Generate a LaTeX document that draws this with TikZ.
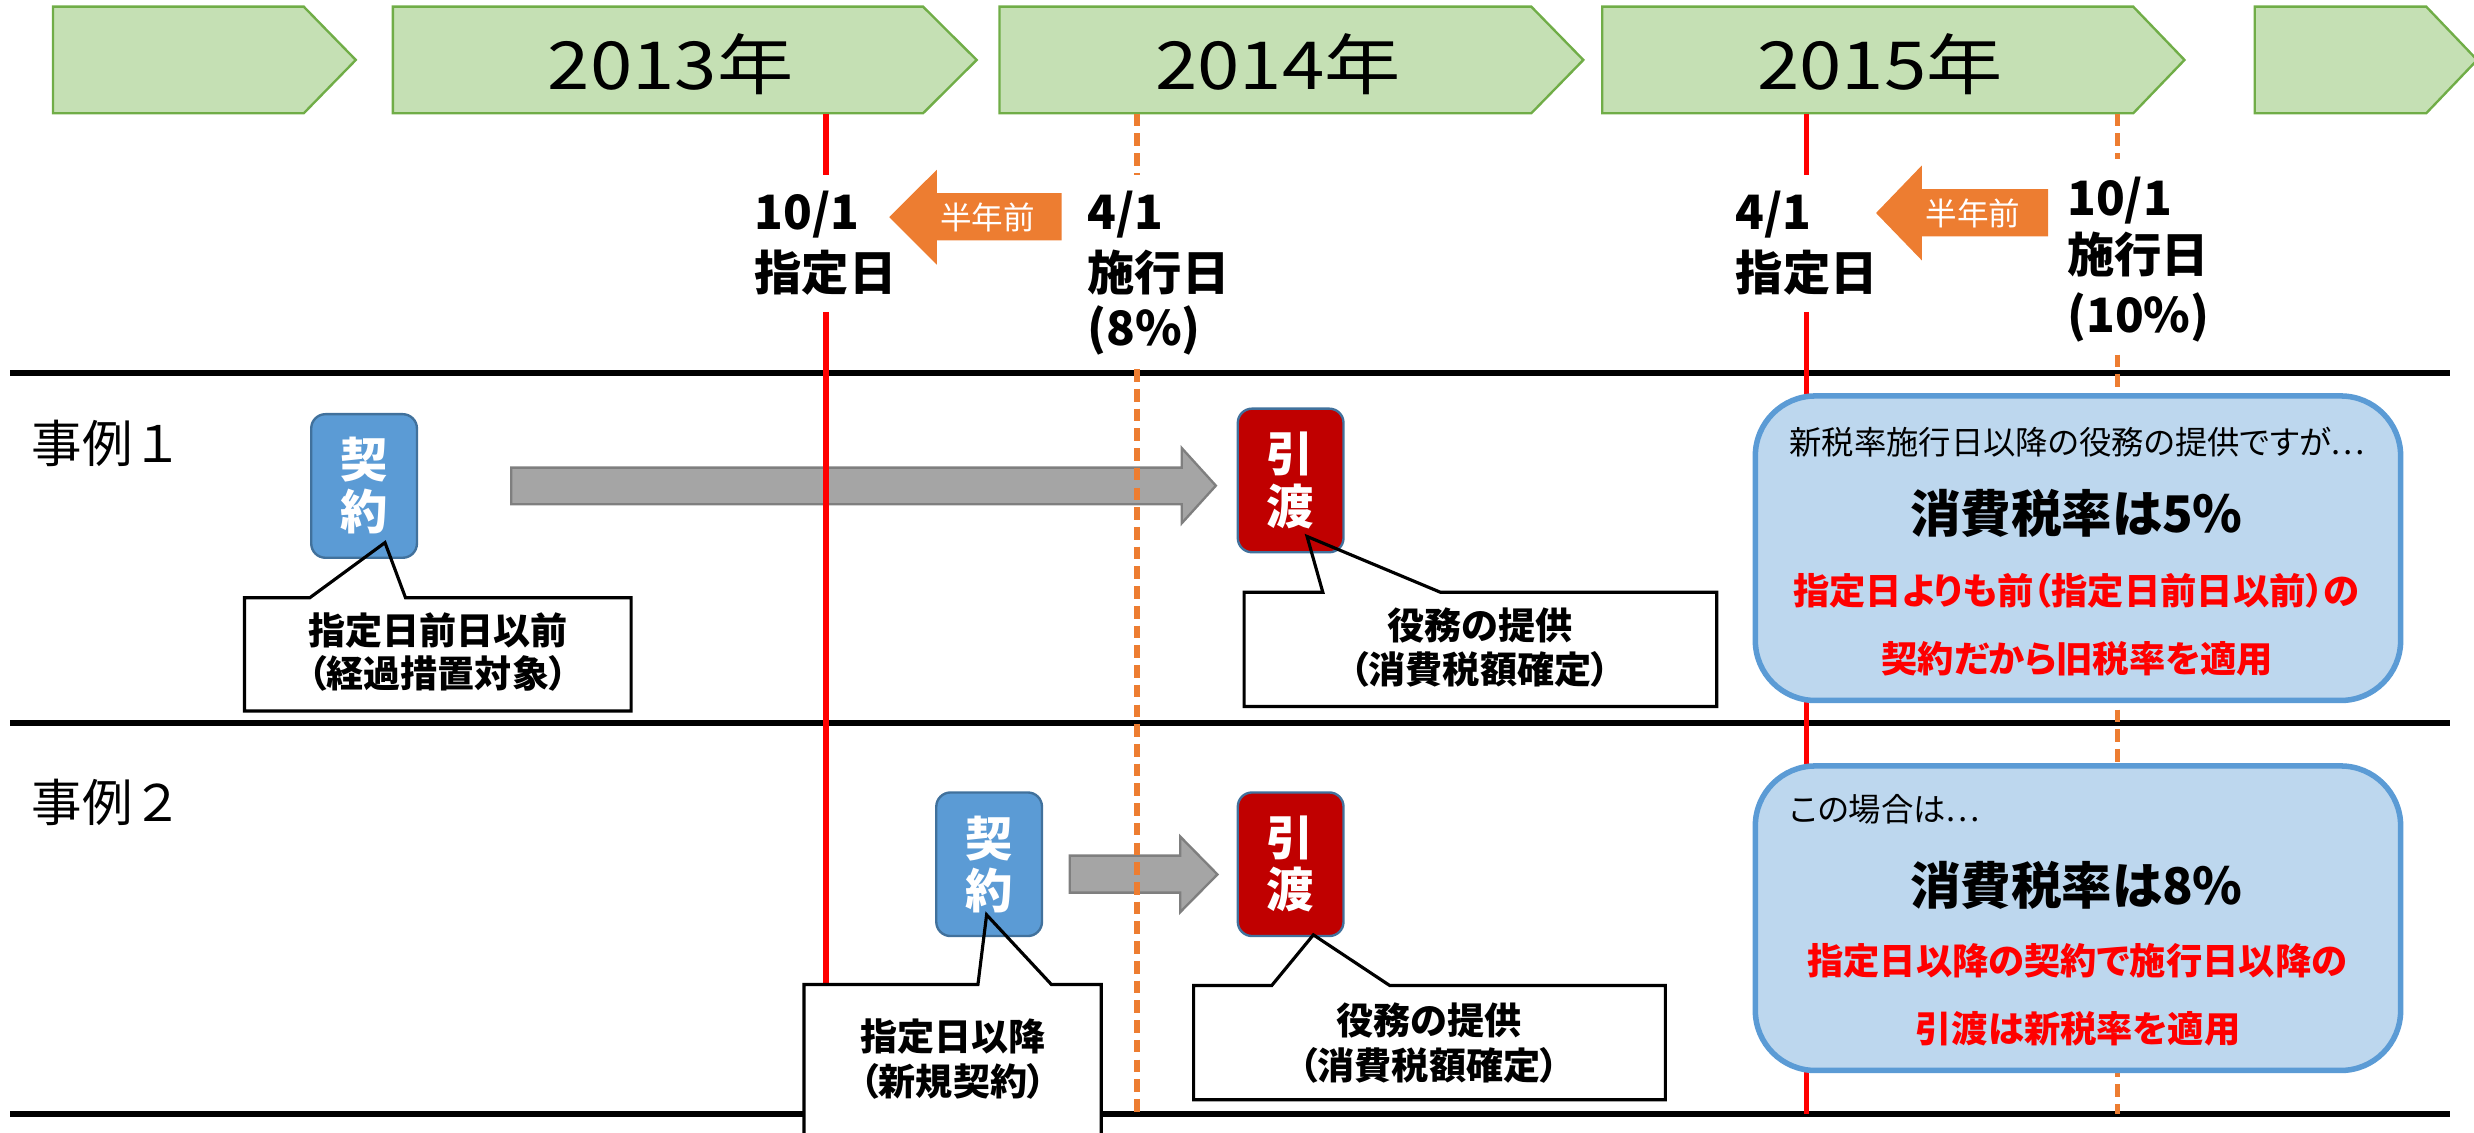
\documentclass[tikz,border=0pt]{standalone}
\usepackage{fontspec}
\setmainfont{Noto Sans CJK JP}[RawFeature=+palt]
\newfontfamily\yearfont{Noto Sans CJK JP}[FakeStretch=1.15]
\newfontfamily\plainjp{Noto Sans CJK JP}
\newcommand\FSz[1]{\fontsize{#1}{#1}\selectfont}
\definecolor{chevfill}{HTML}{C5E0B4}
\definecolor{chevline}{HTML}{70AD47}
\definecolor{orng}{HTML}{ED7D31}
\definecolor{bluefill}{HTML}{5B9BD5}
\definecolor{blueline}{HTML}{41719C}
\definecolor{darkred}{HTML}{C00000}
\definecolor{grayfill}{HTML}{A5A5A5}
\definecolor{grayline}{HTML}{7F7F7F}
\definecolor{infofill}{HTML}{BDD7EE}
\definecolor{infoline}{HTML}{5B9BD5}
\definecolor{purered}{HTML}{FF0000}
\begin{document}
\begin{tikzpicture}[x=1pt,y=-1pt,
  chev/.style={fill=chevfill,draw=chevline,line width=1.5pt},
  yeartxt/.style={font=\yearfont\FSz{42},anchor=base,inner sep=0pt},
  datetxt/.style={font=\bfseries\FSz{30},anchor=base west,inner sep=0pt},
  redline/.style={draw=purered,line width=3.5pt},
  orgline/.style={draw=orng,line width=3.5pt,dash pattern=on 8pt off 4.5pt},
  hline/.style={draw=black,line width=4pt},
  orgarrow/.style={fill=orng},
  halftxt/.style={font=\FSz{20},text=white,inner sep=0pt},
  grayarrow/.style={fill=grayfill,draw=grayline,line width=1.5pt},
  kbox/.style={fill=bluefill,draw=blueline,line width=1.5pt,rounded corners=9pt,
    minimum width=67pt,minimum height=91pt,text=white,
    font=\bfseries\fontsize{30}{33}\selectfont,align=center,inner sep=0pt},
  hbox/.style={kbox,fill=darkred},
  callfill/.style={fill=white},
  callline/.style={draw=black,line width=2pt,line join=miter},
  calltxt/.style={font=\bfseries\FSz{23.5},anchor=base,inner sep=0pt},
  infobox/.style={fill=infofill,draw=infoline,line width=3.5pt,rounded corners=38pt,
    minimum width=409pt,minimum height=193pt,inner sep=0pt},
  smalltxt/.style={font=\FSz{20.5},anchor=base west,inner sep=0pt},
  bigtxt/.style={font=\bfseries\FSz{32},anchor=base,inner sep=0pt},
  redtxt/.style={font=\bfseries\FSz{23},text=purered,anchor=base,inner sep=0pt},
  casetxt/.style={font=\plainjp\FSz{32},anchor=base west,inner sep=0pt}]
\useasboundingbox (0,0) rectangle (1568,718);
\clip (0,0) rectangle (1568,718);

% ---- year chevrons
\draw[chev] (33.6,4.2) -- (192.5,4.2) -- (225.5,38) -- (192.5,71.8) -- (33.6,71.8) -- cycle;
\draw[chev] (249,4.2) -- (585,4.2) -- (619,38) -- (585,71.8) -- (249,71.8) -- cycle;
\draw[chev] (633.5,4.2) -- (970.5,4.2) -- (1003.5,38) -- (970.5,71.8) -- (633.5,71.8) -- cycle;
\draw[chev] (1015.5,4.2) -- (1352,4.2) -- (1384.5,38) -- (1352,71.8) -- (1015.5,71.8) -- cycle;
\draw[chev] (1429,4.2) -- (1537.7,4.2) -- (1570,38) -- (1537.7,71.8) -- (1429,71.8) -- cycle;
\node[yeartxt] (y13) at (425,57) {2013年};
\node[yeartxt] (y14) at (810,57) {2014年};
\node[yeartxt] (y15) at (1191.5,57) {2015年};

% ---- horizontal separators
\coordinate (hl1) at (6.5,236.5); \coordinate (hr1) at (1553,236.5);
\coordinate (hl2) at (6.5,458.4); \coordinate (hr2) at (1553,458.4);
\coordinate (hl3) at (6.5,706);   \coordinate (hr3) at (1553,706);
\draw[hline] (hl1) -- (hr1);
\draw[hline] (hl2) -- (hr2);
\draw[hline] (hl3) -- (hr3);

% ---- gray block arrows
\draw[grayarrow] (324,296.4) -- (749,296.4) -- (749,284) -- (770.6,307.8) -- (749,331.6) -- (749,319.6) -- (324,319.6) -- cycle;
\draw[grayarrow] (678,542.3) -- (748,542.3) -- (748,530.2) -- (771.6,554.2) -- (748,578.1) -- (748,565.7) -- (678,565.7) -- cycle;

% ---- vertical date lines
\coordinate (r1a) at (523.5,72); \coordinate (r1b) at (523.5,111);
\coordinate (r1c) at (523.5,197.7); \coordinate (r1d) at (523.5,706);
\coordinate (o1a) at (720.5,72); \coordinate (o1b) at (720.5,111);
\coordinate (o1c) at (720.5,234); \coordinate (o1d) at (720.5,706);
\coordinate (r2a) at (1145,72); \coordinate (r2b) at (1145,111);
\coordinate (r2c) at (1145,197.7); \coordinate (r2d) at (1145,706);
\coordinate (o2a) at (1342,72); \coordinate (o2b) at (1342,101);
\coordinate (o2c) at (1342,224.7); \coordinate (o2d) at (1342,706);
\draw[redline] (r1a) -- (r1b);  \draw[redline] (r1c) -- (r1d);
\draw[orgline] (o1a) -- (o1b);  \draw[orgline] (o1c) -- (o1d);
\draw[redline] (r2a) -- (r2b);  \draw[redline] (r2c) -- (r2d);
\draw[orgline] (o2a) -- (o2b);  \draw[orgline] (o2c) -- (o2d);

% ---- date labels
\node[datetxt] (d1a) at (478,145.5) {10/1};
\node[datetxt] (d1b) at (478,184) {指定日};
\node[datetxt] (d2a) at (689,145.5) {4/1};
\node[datetxt] (d2b) at (689,184) {施行日};
\node[datetxt] (d2c) at (689,219) {(8\%)};
\node[datetxt] (d3a) at (1100,145.5) {4/1};
\node[datetxt] (d3b) at (1100,184) {指定日};
\node[datetxt] (d4a) at (1310,136.5) {10/1};
\node[datetxt] (d4b) at (1310,173) {施行日};
\node[datetxt] (d4c) at (1310,211) {(10\%)};

% ---- orange "half year before" arrows
\fill[orgarrow] (563.6,137.6) -- (593.7,107.6) -- (593.7,122.4) -- (672.8,122.4) -- (672.8,152.3) -- (593.7,152.3) -- (593.7,167.7) -- cycle;
\node[halftxt] (hf1) at (626,137.7) {半年前};
\fill[orgarrow] (1189,135) -- (1218,104.9) -- (1218,119.9) -- (1298,119.9) -- (1298,149.8) -- (1218,149.8) -- (1218,165) -- cycle;
\node[halftxt] (hf2) at (1250.5,135.3) {半年前};

% ---- case labels
\node[casetxt] (c1) at (20,293) {事例１};
\node[casetxt] (c2) at (20,520.5) {事例２};

% ---- callout shapes (fill first)
\def\cpA{(155,378.8) -- (196.4,378.8) -- (244,343.9) -- (257,378.8) -- (400,378.8) -- (400,450.6) -- (155,450.6) -- cycle}
\def\cpB{(788.5,375.4) -- (838.4,375.4) -- (828.4,340) -- (913,375.4) -- (1088,375.4) -- (1088,447.8) -- (788.5,447.8) -- cycle}
\def\cpC{(509.6,624) -- (619.8,624) -- (625.3,579.8) -- (666.4,624) -- (698,624) -- (698,735) -- (509.6,735) -- cycle}
\def\cpD{(756.5,624.6) -- (806,624.6) -- (832.4,592.5) -- (880.8,624.6) -- (1055.5,624.6) -- (1055.5,697) -- (756.5,697) -- cycle}
\fill[callfill] \cpA; \fill[callfill] \cpB; \fill[callfill] \cpC; \fill[callfill] \cpD;

% ---- contract / delivery boxes
\node[kbox] (k1) at (230.75,308) {契\\約};
\node[hbox] (h1) at (818,304.5) {引\\渡};
\node[kbox] (k2) at (626.9,547.75) {契\\約};
\node[hbox] (h2) at (818,547.75) {引\\渡};

% ---- callout outlines
\draw[callline] \cpA; \draw[callline] \cpB; \draw[callline] \cpC; \draw[callline] \cpD;

% ---- callout texts
\node[calltxt] (t1a) at (277.5,408.5) {指定日前日以前};
\node[calltxt] (t1b) at (277.5,436) {（経過措置対象）};
\node[calltxt] (t2a) at (938,405.5) {役務の提供};
\node[calltxt] (t2b) at (938,433.5) {（消費税額確定）};
\node[calltxt] (t3a) at (604,665.5) {指定日以降};
\node[calltxt] (t3b) at (604,694.5) {（新規契約）};
\node[calltxt] (t4a) at (905.7,655.5) {役務の提供};
\node[calltxt] (t4b) at (905.7,684) {（消費税額確定）};

% ---- information boxes
\node[infobox] (ib1) at (1317,347.45) {};
\node[smalltxt] (i1a) at (1134,288) {新税率施行日以降の役務の提供ですが…};
\node[bigtxt] (i1b) at (1316,337.5) {消費税率は5\%};
\node[redtxt] (i1c) at (1316,383) {指定日よりも前（指定日前日以前）の};
\node[redtxt] (i1d) at (1316.5,426) {契約だから旧税率を適用};

\node[infobox] (ib2) at (1317,581.95) {};
\node[smalltxt] (i2a) at (1134,520.5) {この場合は…};
\node[bigtxt] (i2b) at (1316,573) {消費税率は8\%};
\node[redtxt] (i2c) at (1316.5,617.5) {指定日以降の契約で施行日以降の};
\node[redtxt] (i2d) at (1317,660.5) {引渡は新税率を適用};
\end{tikzpicture}
\end{document}
